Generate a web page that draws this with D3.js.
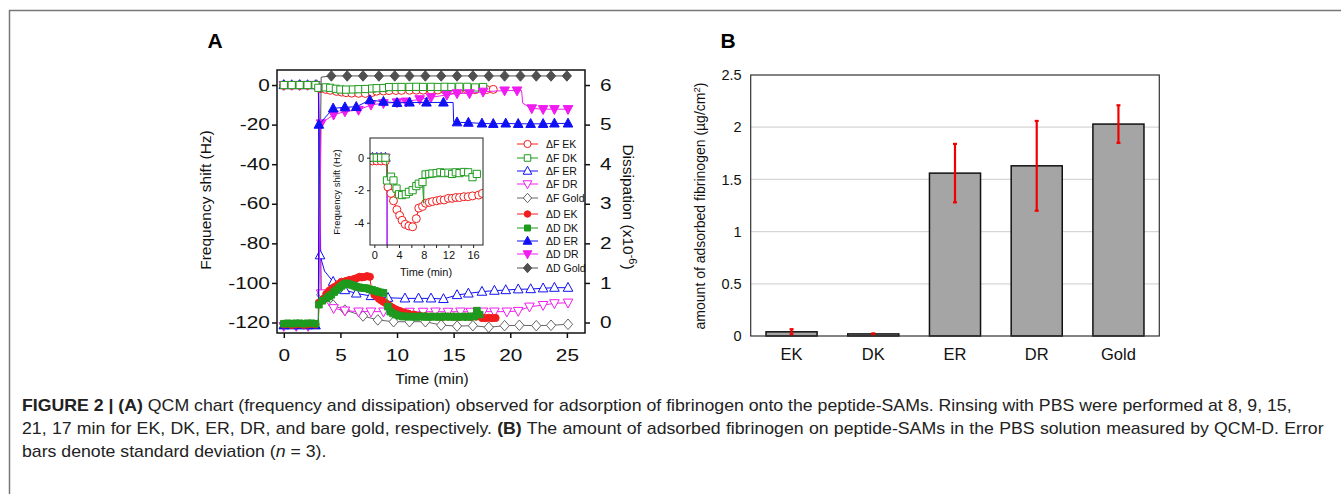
<!DOCTYPE html>
<html>
<head>
<meta charset="utf-8">
<script src="https://cdn.jsdelivr.net/npm/d3@7/dist/d3.min.js"></script>
<style>
  body { margin: 0; background: #fff; }
  svg { display: block; font-family: "Liberation Sans", Arial, sans-serif; }
</style>
</head>
<body>
<div id="chart"></div>
<script>
// --- Panel A data: [time (min), value, marker? (0 = line only)] ---
// frequency shift, Hz
const fEK = [[0,-0.2],[0.7,-0.2],[1.4,-0.2],[2.1,-0.2],[2.8,-0.2],[3.05,-0.2,0],[3.2,-1.8],[3.7,-2.2],[4.1,-2.65],[4.65,-3.2],[5.1,-3.55],[5.5,-3.85],[6.0,-4.1],[6.6,-4.2],[7.2,-4.25],[7.8,-3.75],[8.2,-3.1],[8.8,-3.0],[9.3,-2.8],[9.9,-2.75],[10.4,-2.7],[11.1,-2.65],[11.7,-2.6],[12.3,-2.6],[13.0,-2.5],[13.6,-2.5],[14.2,-2.45],[14.8,-2.45],[15.5,-2.4],[16.2,-2.4],[16.9,-2.35],[17.9,-2.3],[18.5,-2.2]];
const fDK = [[0,0],[0.7,0],[1.4,0],[2.1,0],[2.8,0],[3.0,0,0],[3.05,-1.4],[3.7,-1.17],[4.1,-1.4],[4.6,-1.9],[5.0,-2.25],[5.5,-2.3],[6.1,-2.25],[6.6,-2.1],[7.2,-2.0],[7.8,-1.75],[8.2,-1.6],[8.8,-1.5],[9.0,-2.8,0],[9.05,-1.1,0],[9.3,-1.03],[9.9,-1.0],[10.4,-0.97],[11.1,-0.95],[11.7,-0.9],[12.3,-0.95],[13.0,-0.92],[13.6,-1.0],[14.2,-0.9],[14.8,-0.95],[15.5,-0.88],[16.2,-0.9],[16.9,-1.2],[17.6,-1.0]];
const fER = [[0,0],[0.7,0],[1.4,0],[2.1,0],[2.8,0],[3.05,0,0],[3.2,-86],[3.6,-94,0],[4.36,-99.4],[5.4,-103.6],[6.4,-105.3],[7.7,-106.6],[9.2,-107.5],[10.7,-107.8],[11.9,-107.8],[13.0,-107.8],[14.1,-108.1],[15.3,-106.1],[16.3,-105.3],[17.5,-104.4],[18.6,-103.9],[19.6,-103.6],[20.7,-103.2],[21.8,-103.1],[22.9,-102.7],[23.9,-102.4],[25.1,-102.4]];
const fDR = [[0,0],[0.7,0],[1.4,0],[2.1,0],[2.8,0],[3.1,0,0],[3.3,-105.3],[3.8,-110,0],[4.4,-112.8],[5.4,-114],[6.6,-114.5],[7.7,-114.5],[8.8,-114.5],[10.0,-114.6],[11.1,-114.6],[12.3,-114.6],[13.4,-114.5],[14.5,-114.6],[15.6,-114.5],[16.5,-114.6],[17.6,-114.5],[18.6,-114.5],[19.7,-114.5],[20.7,-114.2],[21.7,-112],[22.9,-111.2],[23.9,-110.3],[25.1,-110]];
const fGold = [[0,0],[1.4,0],[2.9,0],[3.05,0,0],[3.3,-106],[4.36,-111.2],[5.4,-113.7],[7.0,-116.7],[8.3,-118.7],[9.7,-119.6],[11.1,-119.6],[12.5,-119.6],[13.9,-121.3],[15.3,-121.8],[16.7,-121.6],[18.1,-122.4],[19.5,-121.6],[20.8,-121.4],[22.3,-121.6],[23.6,-121.4],[25.1,-120.9]];
// dissipation, x10^-6
const dEK = [[0,-0.05],[0.35,-0.04],[0.7,-0.06],[1.05,-0.05],[1.4,-0.04],[1.75,-0.06],[2.1,-0.05],[2.45,-0.04],[2.8,-0.05],[3.05,-0.05,0],[3.1,0.5],[3.5,0.6],[3.75,0.72],[4.0,0.8],[4.25,0.86],[4.5,0.9],[4.8,0.97],[5.1,1.03],[5.5,1.05],[5.8,1.075],[6.0,1.06],[6.2,1.1],[6.45,1.12],[6.7,1.155],[6.9,1.14],[7.1,1.15],[7.35,1.17],[7.6,1.155],[7.75,0.82],[8.0,0.7],[8.2,0.66],[8.4,0.6],[8.6,0.56],[8.8,0.525],[9.0,0.49],[9.2,0.45],[9.4,0.41],[9.6,0.375],[9.8,0.34],[10.0,0.315],[10.25,0.29],[10.5,0.26],[10.75,0.24],[11.0,0.225],[11.5,0.2],[12.0,0.175],[12.5,0.16],[13.0,0.15],[13.5,0.15],[14.0,0.14],[14.5,0.15],[15.0,0.15],[15.5,0.14],[16.0,0.15],[16.5,0.14],[17.0,0.15],[17.5,0.115],[17.8,0.11],[18.1,0.12],[18.4,0.11],[18.7,0.115]];
const dDK = [[0,-0.03],[0.35,-0.02],[0.7,-0.03],[1.05,-0.02],[1.4,-0.02],[1.75,-0.03],[2.1,-0.02],[2.45,-0.02],[2.8,-0.03],[3.05,-0.03,0],[3.1,0.45],[3.4,0.55],[3.77,0.61],[4.0,0.66],[4.2,0.7],[4.45,0.77],[4.65,0.82],[4.9,0.88],[5.1,0.925],[5.3,0.96],[5.5,0.99],[5.75,0.97],[6.0,0.95],[6.2,0.93],[6.4,0.905],[6.65,0.89],[6.9,0.875],[7.1,0.87],[7.3,0.865],[7.55,0.84],[7.8,0.825],[8.05,0.8],[8.3,0.78],[8.55,0.76],[8.8,0.75],[9.05,0.75,0],[9.2,0.4],[9.4,0.275],[9.65,0.23],[9.9,0.2],[10.2,0.17],[10.5,0.15],[10.8,0.155],[11.1,0.145],[11.4,0.15],[11.7,0.14],[12.0,0.15],[12.3,0.155],[12.6,0.14],[12.9,0.15],[13.2,0.145],[13.5,0.15],[13.8,0.14],[14.1,0.155],[14.4,0.145],[14.7,0.15],[15.0,0.14],[15.3,0.15],[15.6,0.145],[15.9,0.15],[16.2,0.14],[16.5,0.155],[16.8,0.15],[17.05,0.3],[17.3,0.2]];
const dER = [[0,-0.07],[0.7,-0.07],[1.4,-0.07],[2.1,-0.07],[2.8,-0.07],[3.05,-0.07,0],[3.1,5.0],[4.36,5.41],[5.4,5.44],[6.4,5.45],[7.6,5.62],[8.8,5.58],[10.0,5.55],[11.1,5.56],[12.6,5.56],[14.1,5.56],[14.95,5.56,0],[15.0,5.07,0],[15.3,5.06],[16.3,5.05],[17.5,5.03],[18.5,5.02],[19.6,5.03],[20.7,5.02],[21.8,5.02],[22.9,5.02],[23.9,5.03],[25.1,5.03]];
const dDR = [[0,-0.09],[1.1,-0.09],[2.15,-0.09],[3.05,-0.09,0],[3.3,5.03],[4.4,5.25],[5.4,5.33],[6.6,5.37],[7.7,5.5],[8.8,5.54],[10.0,5.56],[10.8,5.58],[12.0,5.64],[13.0,5.69],[14.4,5.75],[15.3,5.79],[16.4,5.79],[17.6,5.83],[19.5,5.86],[20.6,5.86],[21.0,5.86,0],[21.1,5.54,0],[21.9,5.41],[22.9,5.39],[23.9,5.39],[25.1,5.39]];
const dGold = [[0,-0.06,0],[3.05,-0.06,0],[3.3,6.2,0],[4.2,6.23],[5.6,6.23],[7.0,6.23],[8.4,6.23],[9.8,6.23],[11.1,6.23],[12.5,6.23],[13.9,6.23],[15.3,6.23],[16.7,6.23],[18.1,6.23],[19.5,6.23],[20.9,6.23],[22.3,6.23],[23.6,6.23],[25.0,6.23]];

const timeTicks = [0, 5, 10, 15, 20, 25];
const freqTicks = [0, -20, -40, -60, -80, -100, -120];
const dissTicks = [0, 1, 2, 3, 4, 5, 6];
const insetTimeTicks = [0, 4, 8, 12, 16];
const insetFreqTicks = [0, -2, -4];
const INSET_SHIFT = 1; // inset time axis starts 1 min later than the main one

// --- Panel B data ---
const peptides = ["EK", "DK", "ER", "DR", "Gold"];
const adsorbed = [0.04, 0.02, 1.56, 1.63, 2.03];
const adsorbedSD = [0.025, 0.005, 0.28, 0.43, 0.18];
const amountTicks = [0, 0.5, 1, 1.5, 2, 2.5];

const RED = "#f21d1d", GREEN = "#1e9a1e", BLUE = "#1010f5", MAG = "#f01cf0", GREY = "#666", DARK = "#505050";
const LABEL_STRETCH = 1.3; // tick digits in panel A are drawn wide

const W = 1341, H = 494;
const svg = d3.select("#chart").append("svg").attr("width", W).attr("height", H);

// figure frame
svg.append("path").attr("d", `M9.5,${H}V10.5H${W}`).attr("fill", "none").attr("stroke", "#777").attr("stroke-width", 1.5);

function shapePath(shape, s) {
    switch (shape) {
        case "circle": return `M${-s},0A${s},${s} 0 1,0 ${s},0A${s},${s} 0 1,0 ${-s},0Z`;
        case "square": return `M${-s},${-s}H${s}V${s}H${-s}Z`;
        case "up": return `M0,${-s * 1.1}L${s},${s * 0.75}L${-s},${s * 0.75}Z`;
        case "down": return `M0,${s * 1.1}L${s},${-s * 0.75}L${-s},${-s * 0.75}Z`;
        case "diamond": return `M0,${-s * 1.15}L${s},0L0,${s * 1.15}L${-s},0Z`;
    }
}

// ================= PANEL A =================
const plotA = { left: 277, right: 585, top: 70, bottom: 333 };
const x = d3.scaleLinear().domain([-0.6, 26.6]).range([plotA.left, plotA.right]);
const yF = d3.scaleLinear().domain([-125.3, 7.6]).range([plotA.bottom, plotA.top]);
const yD = d3.scaleLinear().domain([0, 6]).range([yF(-120), yF(0)]);

const gA = svg.append("g");
gA.append("defs").append("clipPath").attr("id", "clipA")
    .append("rect").attr("x", plotA.left).attr("y", plotA.top)
    .attr("width", plotA.right - plotA.left).attr("height", plotA.bottom - plotA.top);

const series = [
    { name: "ΔF EK", pts: fEK, color: RED, shape: "circle", filled: false, s: 4, y: yF },
    { name: "ΔF DK", pts: fDK, color: GREEN, shape: "square", filled: false, s: 3.6, y: yF },
    { name: "ΔF ER", pts: fER, color: BLUE, shape: "up", filled: false, s: 4.8, y: yF },
    { name: "ΔF DR", pts: fDR, color: MAG, shape: "down", filled: false, s: 4.8, y: yF },
    { name: "ΔF Gold", pts: fGold, color: GREY, shape: "diamond", filled: false, s: 4.6, y: yF },
    { name: "ΔD EK", pts: dEK, color: RED, shape: "circle", filled: true, s: 3.6, y: yD },
    { name: "ΔD DK", pts: dDK, color: GREEN, shape: "square", filled: true, s: 3.3, y: yD },
    { name: "ΔD ER", pts: dER, color: BLUE, shape: "up", filled: true, s: 4.8, y: yD },
    { name: "ΔD DR", pts: dDR, color: MAG, shape: "down", filled: true, s: 4.8, y: yD },
    { name: "ΔD Gold", pts: dGold, color: DARK, shape: "diamond", filled: true, s: 4.6, y: yD }
];
const drawOrder = [4, 3, 2, 0, 1, 9, 8, 7, 5, 6];

const dataA = gA.append("g").attr("clip-path", "url(#clipA)");
drawOrder.forEach(i => {
    const sr = series[i];
    const line = d3.line().x(d => x(d[0])).y(d => sr.y(d[1]));
    dataA.append("path").attr("d", line(sr.pts))
        .attr("fill", "none").attr("stroke", sr.color).attr("stroke-width", 1);
    dataA.append("g").selectAll("path")
        .data(sr.pts.filter(d => d[2] !== 0))
        .join("path")
        .attr("transform", d => `translate(${x(d[0])},${sr.y(d[1])})`)
        .attr("d", shapePath(sr.shape, sr.s))
        .attr("fill", sr.filled ? sr.color : "#fff")
        .attr("stroke", sr.color).attr("stroke-width", 1);
});

// frame + axes
gA.append("rect").attr("x", plotA.left).attr("y", plotA.top)
    .attr("width", plotA.right - plotA.left).attr("height", plotA.bottom - plotA.top)
    .attr("fill", "none").attr("stroke", "#111").attr("stroke-width", 1.5);

const axL = gA.append("g").attr("transform", `translate(${plotA.left},0)`)
    .call(d3.axisLeft(yF).tickValues(freqTicks).tickSize(5).tickPadding(0.5).tickFormat(d => String(d)));
const axR = gA.append("g").attr("transform", `translate(${plotA.right},0)`)
    .call(d3.axisRight(yD).tickValues(dissTicks).tickSize(5).tickPadding(6.5).tickFormat(d => String(d)));
const axB = gA.append("g").attr("transform", `translate(0,${plotA.bottom})`)
    .call(d3.axisBottom(x).tickValues(timeTicks).tickSize(5).tickPadding(12).tickFormat(d => String(d)));
[axL, axR, axB].forEach(a => {
    a.select(".domain").remove();
    a.selectAll(".tick line").attr("stroke", "#111").attr("stroke-width", 1.5);
    a.selectAll("text").attr("font-size", 16).attr("fill", "#111")
        .attr("font-family", "Liberation Sans, Arial, sans-serif")
        .attr("transform", `scale(${LABEL_STRETCH},1)`);
});

gA.append("text").attr("transform", `translate(211,200) rotate(-90)`)
    .attr("text-anchor", "middle").attr("font-size", 15.5).attr("fill", "#111")
    .text("Frequency shift (Hz)");
gA.append("text").attr("x", 432).attr("y", 384)
    .attr("text-anchor", "middle").attr("font-size", 15.5).attr("fill", "#111")
    .text("Time (min)");
const dissLabel = gA.append("text").attr("transform", `translate(623,207) rotate(90)`)
    .attr("text-anchor", "middle").attr("font-size", 15.5).attr("fill", "#111");
dissLabel.append("tspan").text("Dissipation (x10");
dissLabel.append("tspan").attr("font-size", 11).attr("baseline-shift", "super").text("-6");
dissLabel.append("tspan").text(")");
gA.append("text").attr("x", 215).attr("y", 48).attr("text-anchor", "middle")
    .attr("font-size", 21).attr("font-weight", "bold").text("A");

// legend
const legend = gA.append("g");
const legendY = [144, 158, 171, 184, 198, 214, 228, 241, 254, 268];
series.forEach((sr, i) => {
    const row = legend.append("g").attr("transform", `translate(0,${legendY[i]})`);
    row.append("line").attr("x1", 517).attr("x2", 538).attr("stroke", sr.color).attr("stroke-width", 1);
    row.append("path").attr("transform", "translate(527.5,0)")
        .attr("d", shapePath(sr.shape, sr.s * 0.9))
        .attr("fill", sr.filled ? sr.color : "#fff").attr("stroke", sr.color);
    row.append("text").attr("x", 546).attr("y", 4).attr("font-size", 10.5).attr("fill", "#111").text(sr.name);
});

// inset
const inset = { left: 370, right: 483, top: 138, bottom: 245 };
const xi = d3.scaleLinear().domain([-0.7, 17.6]).range([inset.left, inset.right]);
const yi = d3.scaleLinear().domain([-5.37, 1.21]).range([inset.bottom, inset.top]);
const gI = gA.append("g");
gI.append("defs").append("clipPath").attr("id", "clipI")
    .append("rect").attr("x", inset.left).attr("y", inset.top)
    .attr("width", inset.right - inset.left).attr("height", inset.bottom - inset.top);
gI.append("rect").attr("x", inset.left).attr("y", inset.top)
    .attr("width", inset.right - inset.left).attr("height", inset.bottom - inset.top)
    .attr("fill", "#fff");
const dataI = gI.append("g").attr("clip-path", "url(#clipI)");
[2, 3, 0, 1].forEach(i => {
    const sr = series[i];
    const line = d3.line().x(d => xi(d[0] - INSET_SHIFT)).y(d => yi(d[1]));
    dataI.append("path").attr("d", line(sr.pts)).attr("fill", "none")
        .attr("stroke", sr.color).attr("stroke-width", 1);
    dataI.append("g").selectAll("path")
        .data(sr.pts.filter(d => d[2] !== 0))
        .join("path")
        .attr("transform", d => `translate(${xi(d[0] - INSET_SHIFT)},${yi(d[1])})`)
        .attr("d", shapePath(sr.shape, sr.s))
        .attr("fill", "#fff").attr("stroke", sr.color);
});
gI.append("rect").attr("x", inset.left).attr("y", inset.top)
    .attr("width", inset.right - inset.left).attr("height", inset.bottom - inset.top)
    .attr("fill", "none").attr("stroke", "#222").attr("stroke-width", 1);
const iaL = gI.append("g").attr("transform", `translate(${inset.left},0)`)
    .call(d3.axisLeft(yi).tickValues(insetFreqTicks).tickSize(3).tickPadding(3).tickFormat(d => String(d)));
const iaB = gI.append("g").attr("transform", `translate(0,${inset.bottom})`)
    .call(d3.axisBottom(xi).tickValues(d3.range(0, 17, 2)).tickSize(3).tickPadding(3)
        .tickFormat(d => insetTimeTicks.includes(d) ? String(d) : ""));
[iaL, iaB].forEach(a => {
    a.select(".domain").remove();
    a.selectAll(".tick line").attr("stroke", "#222");
    a.selectAll("text").attr("font-size", 11).attr("fill", "#111")
        .attr("font-family", "Liberation Sans, Arial, sans-serif");
});
gI.append("text").attr("transform", `translate(340,192) rotate(-90)`)
    .attr("text-anchor", "middle").attr("font-size", 9.5).attr("fill", "#111")
    .text("Frequency shift (Hz)");
gI.append("text").attr("x", 426).attr("y", 276).attr("text-anchor", "middle")
    .attr("font-size", 11).attr("fill", "#111").text("Time (min)");

// ================= PANEL B =================
const plotB = { left: 750.7, right: 1159.3, top: 75, bottom: 336 };
const xb = d3.scaleBand().domain(peptides).range([plotB.left, plotB.right])
    .paddingInner(0.375).paddingOuter(0.1875);
const yb = d3.scaleLinear().domain([0, 2.5]).range([plotB.bottom, plotB.top]);
const gB = svg.append("g");

gB.append("g").selectAll("line").data(amountTicks.filter(d => d > 0 && d < 2.5)).join("line")
    .attr("x1", plotB.left).attr("x2", plotB.right)
    .attr("y1", d => yb(d)).attr("y2", d => yb(d))
    .attr("stroke", "#d6d6d6").attr("stroke-width", 1.2);

gB.append("g").selectAll("rect").data(peptides).join("rect")
    .attr("x", d => xb(d)).attr("width", xb.bandwidth())
    .attr("y", (d, i) => yb(adsorbed[i])).attr("height", (d, i) => yb(0) - yb(adsorbed[i]))
    .attr("fill", "#a5a5a5").attr("stroke", "#111").attr("stroke-width", 1.5);

const err = gB.append("g").attr("stroke", "#f20000").attr("stroke-width", 2.2);
peptides.forEach((p, i) => {
    const cx = xb(p) + xb.bandwidth() / 2;
    const lo = yb(adsorbed[i] - adsorbedSD[i]), hi = yb(adsorbed[i] + adsorbedSD[i]);
    err.append("line").attr("x1", cx).attr("x2", cx).attr("y1", lo).attr("y2", hi);
    err.append("line").attr("x1", cx - 2).attr("x2", cx + 2).attr("y1", lo).attr("y2", lo);
    err.append("line").attr("x1", cx - 2).attr("x2", cx + 2).attr("y1", hi).attr("y2", hi);
});

gB.append("rect").attr("x", plotB.left).attr("y", plotB.top)
    .attr("width", plotB.right - plotB.left).attr("height", plotB.bottom - plotB.top)
    .attr("fill", "none").attr("stroke", "#333").attr("stroke-width", 1.2);

const byAx = gB.append("g").attr("transform", `translate(${plotB.left},0)`)
    .call(d3.axisLeft(yb).tickValues(amountTicks).tickSize(0).tickPadding(9).tickFormat(d => String(d)));
const bxAx = gB.append("g").attr("transform", `translate(0,${plotB.bottom})`)
    .call(d3.axisBottom(xb).tickSize(0).tickPadding(12));
[byAx, bxAx].forEach(a => {
    a.select(".domain").remove();
    a.selectAll("text").attr("fill", "#111").attr("font-family", "Liberation Sans, Arial, sans-serif");
});
byAx.selectAll("text").attr("font-size", 14.5);
bxAx.selectAll("text").attr("font-size", 16.5);

const bTitle = gB.append("text").attr("transform", `translate(705,206) rotate(-90)`)
    .attr("text-anchor", "middle").attr("font-size", 14).attr("fill", "#111");
bTitle.append("tspan").text("amount of adsorbed fibrinogen (µg/cm");
bTitle.append("tspan").attr("font-size", 9.5).attr("baseline-shift", "super").text("2");
bTitle.append("tspan").text(")");
gB.append("text").attr("x", 728).attr("y", 48).attr("text-anchor", "middle")
    .attr("font-size", 21).attr("font-weight", "bold").text("B");

// ================= CAPTION =================
// condensed face: squeeze every line by the factor that fits the first line,
// then justify the second line with word spacing; the last line stays natural
const cap = svg.append("g").attr("font-family", "Liberation Sans, Arial, sans-serif")
    .attr("font-size", 16).attr("fill", "#222");
const capLines = [
    { y: 411, len: 1271, parts: [["FIGURE 2 | (A)", "b"], [" QCM chart (frequency and dissipation) observed for adsorption of fibrinogen onto the peptide-SAMs. Rinsing with PBS were performed at 8, 9, 15,", ""]] },
    { y: 434, len: 1303, parts: [["21, 17 min for EK, DK, ER, DR, and bare gold, respectively. ", ""], ["(B)", "b"], [" The amount of adsorbed fibrinogen on peptide-SAMs in the PBS solution measured by QCM-D. Error", ""]] },
    { y: 457, len: null, parts: [["bars denote standard deviation (", ""], ["n", "i"], [" = 3).", ""]] }
];
const capX = 22;
const capTexts = capLines.map(l => {
    const t = cap.append("text").attr("x", capX).attr("y", l.y);
    l.parts.forEach(p => {
        const ts = t.append("tspan").text(p[0]);
        if (p[1] === "b") ts.attr("font-weight", "bold");
        if (p[1] === "i") ts.attr("font-style", "italic");
    });
    return t;
});
const squeeze = capLines[0].len / capTexts[0].node().getComputedTextLength();
capTexts.forEach((t, i) => {
    const l = capLines[i];
    if (i === 1) {
        const natural = t.node().getComputedTextLength();
        const spaces = l.parts.map(p => p[0]).join("").split(" ").length - 1;
        const extra = (l.len / squeeze - natural) / spaces;
        t.style("word-spacing", `${extra}px`);
    }
    t.attr("transform", `translate(${capX},0) scale(${squeeze},1) translate(${-capX},0)`);
});
</script>
</body>
</html>
